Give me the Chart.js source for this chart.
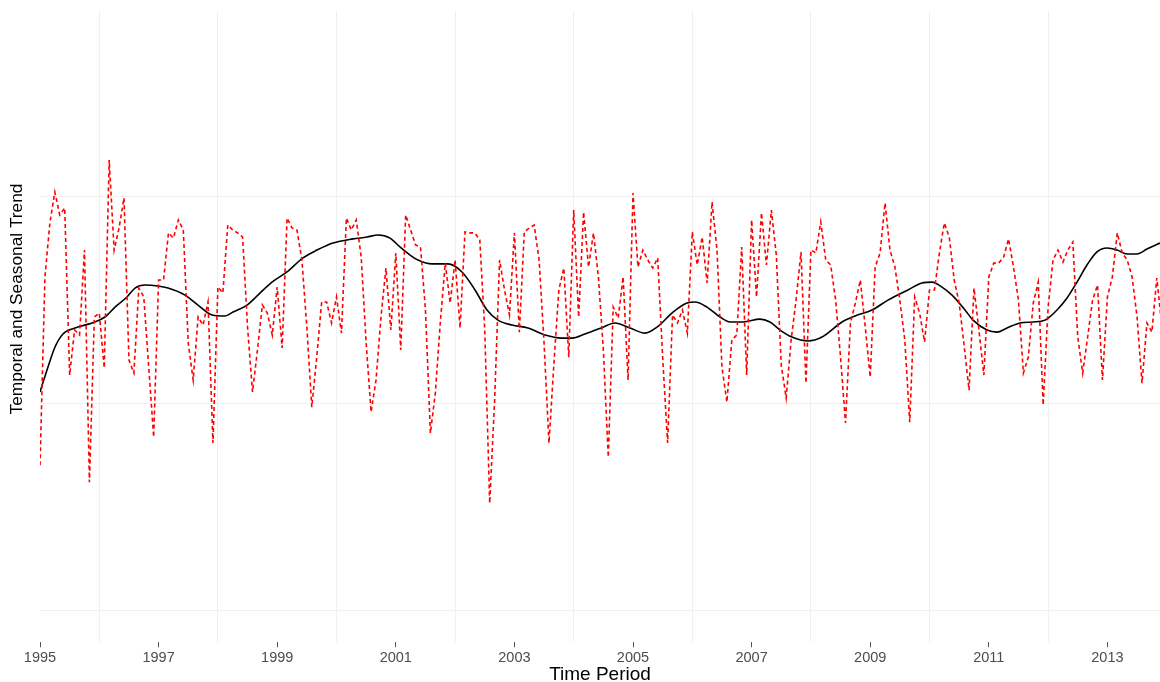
<!DOCTYPE html>
<html>
<head>
<meta charset="utf-8">
<script src="https://cdn.jsdelivr.net/npm/chart.js@4.4.0/dist/chart.umd.min.js"></script>
<style>
  body { margin: 0; background: #fff; }
  #wrap { width: 1160px; height: 682px; }
</style>
</head>
<body>
<div id="wrap"><canvas id="myChart"></canvas></div>
<script>
// monthly series, first value is January 1995
var startYear = 1995;
var seasonal = [
  7.02, 16.13, 18.74, 20.24, 19.13, 19.47, 11.38, 13.56, 13.32, 17.43, 6.20, 14.19,
  14.38, 11.72, 21.79, 17.43, 18.50, 19.95, 12.11, 11.48, 15.59, 15.16, 11.77, 8.38,
  15.98, 15.98, 18.26, 18.01, 18.89, 18.40, 12.93, 11.14, 14.19, 13.80, 14.92, 8.09,
  15.64, 15.35, 18.64, 18.40, 18.26, 18.06, 13.70, 10.56, 12.59, 14.77, 14.38, 13.32,
  15.64, 12.69, 18.98, 18.50, 18.40, 16.95, 13.70, 9.83, 12.25, 14.92, 14.92, 13.90,
  15.16, 13.41, 18.98, 18.40, 18.89, 17.09, 12.93, 9.59, 11.14, 14.19, 16.56, 13.56,
  17.29, 12.59, 19.13, 18.40, 17.68, 17.58, 14.53, 8.57, 10.51, 13.90, 16.80, 14.87,
  16.95, 13.66, 18.31, 18.26, 18.26, 17.92, 13.56, 5.18, 10.17, 16.95, 15.50, 14.29,
  18.26, 13.46, 18.31, 18.50, 18.64, 16.95, 12.93, 8.09, 11.96, 15.50, 16.56, 12.25,
  19.37, 14.19, 19.27, 16.61, 18.26, 16.13, 12.59, 7.41, 14.67, 14.14, 16.13, 11.14,
  20.19, 16.61, 17.43, 16.95, 16.56, 17.05, 12.25, 8.09, 14.29, 13.90, 14.53, 13.41,
  18.31, 16.71, 18.06, 15.84, 19.76, 17.43, 11.77, 10.07, 13.08, 13.32, 17.58, 11.38,
  18.89, 15.16, 19.23, 16.71, 19.37, 17.19, 11.86, 10.27, 13.08, 15.01, 17.34, 10.99,
  17.43, 17.29, 18.79, 16.95, 16.71, 15.01, 12.25, 9.06, 13.90, 14.87, 15.98, 13.70,
  11.28, 16.61, 17.29, 19.71, 17.43, 16.61, 15.01, 13.08, 9.10, 15.16, 14.38, 12.98,
  15.50, 15.50, 17.29, 18.74, 18.06, 15.98, 14.87, 12.83, 10.65, 15.59, 13.56, 11.38,
  16.13, 16.80, 16.80, 17.09, 17.97, 16.61, 15.01, 11.48, 12.25, 14.87, 15.88, 9.93,
  14.67, 16.95, 17.43, 16.85, 17.43, 17.82, 13.22, 11.48, 13.22, 15.01, 15.74, 11.14,
  15.16, 16.13, 18.26, 17.29, 16.95, 16.13, 14.19, 10.99, 13.90, 13.46, 16.08, 13.80
];

var trendX = [
  1995.000, 1995.135, 1995.253, 1995.388, 1995.590, 1995.877, 1996.096, 1996.265, 1996.467, 1996.602,
  1996.771, 1996.990, 1997.159, 1997.445, 1997.664, 1997.901, 1998.120, 1998.255, 1998.491, 1998.710,
  1998.912, 1999.165, 1999.435, 1999.671, 1999.941, 2000.278, 2000.514, 2000.700, 2000.902, 2001.071,
  2001.240, 2001.374, 2001.610, 2001.880, 2002.116, 2002.336, 2002.538, 2002.723, 2002.960, 2003.229,
  2003.516, 2003.803, 2003.971, 2004.191, 2004.494, 2004.696, 2004.949, 2005.202, 2005.405, 2005.675,
  2005.911, 2006.046, 2006.248, 2006.467, 2006.636, 2006.855, 2007.142, 2007.310, 2007.479, 2007.681,
  2007.951, 2008.187, 2008.524, 2008.744, 2009.030, 2009.300, 2009.637, 2009.874, 2010.042, 2010.211,
  2010.380, 2010.599, 2010.734, 2010.970, 2011.139, 2011.307, 2011.526, 2011.746, 2011.948, 2012.150,
  2012.319, 2012.487, 2012.656, 2012.825, 2012.993, 2013.162, 2013.331, 2013.499, 2013.668, 2013.887
];
var trendY = [
  10.56, 11.77, 12.74, 13.37, 13.66, 13.90, 14.19, 14.67, 15.16, 15.59,
  15.74, 15.69, 15.59, 15.25, 14.77, 14.29, 14.24, 14.43, 14.77, 15.35,
  15.88, 16.37, 17.05, 17.43, 17.77, 17.97, 18.06, 18.16, 18.01, 17.58,
  17.19, 16.95, 16.76, 16.76, 16.37, 15.50, 14.53, 14.04, 13.80, 13.66,
  13.32, 13.17, 13.17, 13.37, 13.70, 13.90, 13.66, 13.41, 13.70, 14.43,
  14.87, 14.92, 14.67, 14.19, 13.95, 13.95, 14.09, 13.95, 13.56, 13.22,
  13.03, 13.22, 13.95, 14.24, 14.53, 15.01, 15.50, 15.84, 15.88, 15.64,
  15.25, 14.53, 14.04, 13.56, 13.46, 13.66, 13.90, 13.95, 14.04, 14.53,
  15.11, 15.88, 16.71, 17.34, 17.53, 17.43, 17.24, 17.24, 17.48, 17.77
];

var yearTicks = [];
for (var yr = 1995; yr <= 2013; yr++) yearTicks.push(yr);
var yGrid = [0, 10, 20];

var seasonalPts = seasonal.map(function(v, i) { return { x: startYear + i / 12, y: v }; });
var trendPts = trendX.map(function(x, i) { return { x: x, y: trendY[i] }; });

var fontFam = "'Liberation Sans', Arial, sans-serif";
var gridCol = '#f0f0f0';

// y title drawn by hand so it sits where the original has it
var yTitle = {
  id: 'yTitle',
  afterDraw: function(chart) {
    var c = chart.ctx;
    c.save();
    c.translate(17, 299);
    c.rotate(-Math.PI / 2);
    c.font = '17.3px ' + fontFam;
    c.fillStyle = '#000';
    c.textAlign = 'center';
    c.textBaseline = 'middle';
    c.fillText('Temporal and Seasonal Trend', 0, 0);
    c.restore();
  }
};

var ctx = document.getElementById('myChart').getContext('2d');
new Chart(ctx, {
  type: 'line',
  data: {
    datasets: [{
      label: 'Seasonal',
      data: seasonalPts,
      borderColor: '#ff0000',
      borderWidth: 1.6,
      borderDash: [4, 3],
      pointRadius: 0,
      tension: 0,
      fill: false
    }, {
      label: 'Trend',
      data: trendPts,
      borderColor: '#000000',
      borderWidth: 1.6,
      pointRadius: 0,
      cubicInterpolationMode: 'monotone',
      fill: false
    }]
  },
  options: {
    responsive: true,
    maintainAspectRatio: false,
    animation: false,
    layout: { padding: { left: 40, top: 11, right: 0, bottom: 0 } },
    plugins: { legend: { display: false }, tooltip: { enabled: false } },
    scales: {
      x: {
        type: 'linear',
        min: 1995,
        max: 2013.887,
        afterBuildTicks: function(axis) {
          axis.ticks = yearTicks.map(function(v) { return { value: v }; });
        },
        border: { display: false },
        grid: {
          color: function(c) { return c.tick && c.tick.value % 2 === 0 ? gridCol : 'rgba(0,0,0,0)'; },
          tickColor: function(c) { return c.tick && c.tick.value % 2 === 1 ? '#555555' : 'rgba(0,0,0,0)'; },
          tickLength: 5,
          lineWidth: 1
        },
        ticks: {
          autoSkip: false,
          maxRotation: 0,
          padding: 3,
          color: '#4d4d4d',
          font: { family: fontFam, size: 14.5, lineHeight: 1 },
          callback: function(v) { return v % 2 === 1 ? String(v) : ''; }
        },
        title: {
          display: true,
          text: 'Time Period',
          color: '#000',
          padding: { top: 0, bottom: 0 },
          font: { family: fontFam, size: 19, lineHeight: 0.75 }
        }
      },
      y: {
        min: -1.55,
        max: 29.0,
        afterBuildTicks: function(axis) {
          axis.ticks = yGrid.map(function(v) { return { value: v }; });
        },
        border: { display: false },
        grid: { color: gridCol, drawTicks: false, lineWidth: 1 },
        ticks: { display: false }
      }
    }
  },
  plugins: [yTitle]
});
</script>
</body>
</html>
